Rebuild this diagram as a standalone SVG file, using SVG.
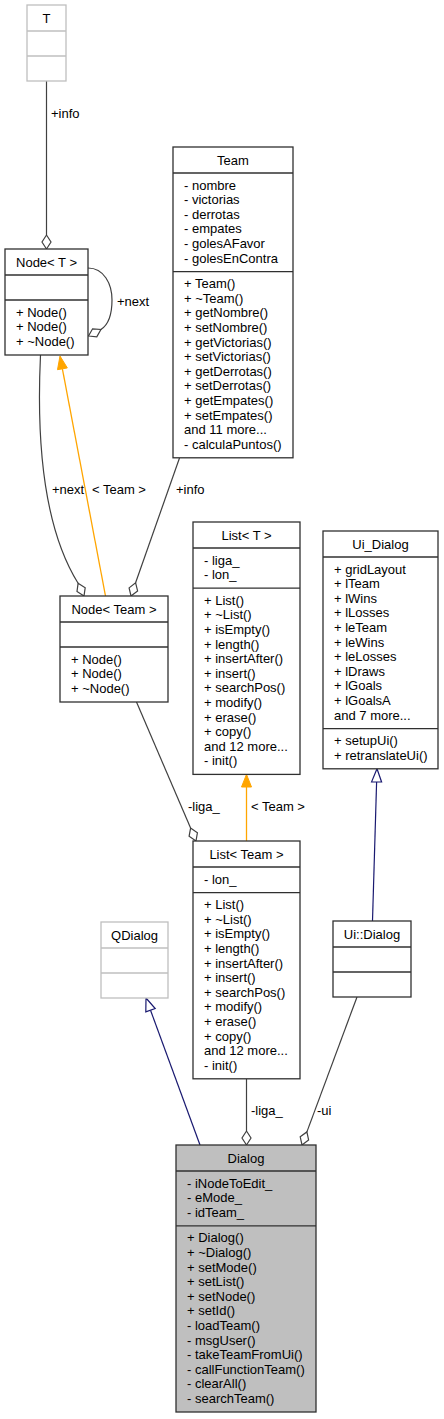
<svg xmlns="http://www.w3.org/2000/svg" width="444" height="1419" viewBox="0 0 444 1419">
<style>
text{font-family:"Liberation Sans",Arial,sans-serif;font-size:13px;fill:#000}
.t{text-anchor:middle}
.box{fill:#fff;stroke:#303030;stroke-width:1.3}
.und{fill:#fff;stroke:#bfbfbf;stroke-width:1.3}
.cur{fill:#bfbfbf;stroke:#303030;stroke-width:1.3}
.sep{stroke:#303030;stroke-width:1.3}
.usep{stroke:#bfbfbf;stroke-width:1.3}
.use{fill:none;stroke:#404040;stroke-width:1.2}
.dia{fill:#fff;stroke:#404040;stroke-width:1.2}
.inh{fill:none;stroke:#191970;stroke-width:1.2}
.tri{fill:#fff;stroke:#191970;stroke-width:1.2}
.tpl{fill:none;stroke:#ffa500;stroke-width:1.3}
.otri{fill:#ffa500;stroke:#ffa500;stroke-width:1}
</style>
<rect width="444" height="1419" fill="#fff"/>
<g id="connectors">
<path class="use" d="M46.5,81 L46.5,235"/>
<polygon class="dia" points="46.5,249 51,242 46.5,235 42,242"/>
<text x="51" y="117.5">+info</text>
<path class="use" d="M88,268 C104,268 112,284 112,300 C112,314 108,325 100.9,329.5"/>
<polygon class="dia" points="88.5,336 96.8,336.8 100.9,329.5 92.6,328.8"/>
<text x="117" y="305.5">+next</text>
<path class="use" d="M40.5,355 C36,450 45,530 78.1,583.3"/>
<polygon class="dia" points="84,596 85.2,587.7 78.1,583.3 77,591.5"/>
<text x="52" y="493.5">+next</text>
<path class="tpl" d="M105.5,596 L62.4,368.8"/>
<polygon class="otri" points="60,356 67.3,367.9 57.5,369.7"/>
<text x="92" y="493.5">&lt; Team &gt;</text>
<path class="use" d="M179.5,458 L135.6,582.8"/>
<polygon class="dia" points="131,596 137.6,590.9 135.6,582.8 129.1,587.9"/>
<text x="176" y="493.5">+info</text>
<path class="use" d="M136.5,702 L190.6,828.1"/>
<polygon class="dia" points="196,841 197.4,832.8 190.6,828.1 189.1,836.3"/>
<text x="188" y="810.5">-liga_</text>
<path class="tpl" d="M246.5,841 L246.5,787"/>
<polygon class="otri" points="246.5,774.4 251.5,787 241.5,787"/>
<text x="251" y="810.5">&lt; Team &gt;</text>
<path class="inh" d="M372.5,921 L376.6,782"/>
<polygon class="tri" points="377,768.8 381.6,782 371.6,781.8"/>
<path class="inh" d="M200,1145 L150.5,1010.2"/>
<polygon class="tri" points="146,998 155.2,1008.5 145.8,1011.9"/>
<path class="use" d="M246.5,1079 L246.5,1131"/>
<polygon class="dia" points="246.5,1145 251,1138 246.5,1131 242,1138"/>
<text x="251" y="1114.5">-liga_</text>
<path class="use" d="M357,997 L306.9,1131.9"/>
<polygon class="dia" points="302,1145 308.6,1140 306.9,1131.9 300.2,1136.8"/>
<text x="317" y="1114.5">-ui</text>
</g>
<g id="T">
<rect class="und" x="27" y="5" width="39" height="76"/>
<line class="usep" x1="27" y1="31" x2="66" y2="31"/>
<line class="usep" x1="27" y1="56" x2="66" y2="56"/>
<text class="t" x="46.5" y="22.5">T</text>
</g>
<g id="NodeT">
<rect class="box" x="5" y="249" width="83" height="106"/>
<line class="sep" x1="5" y1="275" x2="88" y2="275"/>
<line class="sep" x1="5" y1="300" x2="88" y2="300"/>
<text class="t" x="46.5" y="266.5">Node&lt; T &gt;</text>
<text x="16" y="316.5">+ Node()</text>
<text x="16" y="331.1">+ Node()</text>
<text x="16" y="345.7">+ ~Node()</text>
</g>
<g id="Team">
<rect class="box" x="173" y="147" width="120" height="310.8"/>
<line class="sep" x1="173" y1="173" x2="293" y2="173"/>
<line class="sep" x1="173" y1="271.6" x2="293" y2="271.6"/>
<text class="t" x="233" y="164.5">Team</text>
<text x="184" y="189.5">- nombre</text>
<text x="184" y="204.1">- victorias</text>
<text x="184" y="218.7">- derrotas</text>
<text x="184" y="233.3">- empates</text>
<text x="184" y="247.9">- golesAFavor</text>
<text x="184" y="262.5">- golesEnContra</text>
<text x="184" y="288.1">+ Team()</text>
<text x="184" y="302.7">+ ~Team()</text>
<text x="184" y="317.3">+ getNombre()</text>
<text x="184" y="331.9">+ setNombre()</text>
<text x="184" y="346.5">+ getVictorias()</text>
<text x="184" y="361.1">+ setVictorias()</text>
<text x="184" y="375.7">+ getDerrotas()</text>
<text x="184" y="390.3">+ setDerrotas()</text>
<text x="184" y="404.9">+ getEmpates()</text>
<text x="184" y="419.5">+ setEmpates()</text>
<text x="184" y="434.1">and 11 more...</text>
<text x="184" y="448.7">- calculaPuntos()</text>
</g>
<g id="NodeTeam">
<rect class="box" x="60" y="596" width="108" height="106"/>
<line class="sep" x1="60" y1="622" x2="168" y2="622"/>
<line class="sep" x1="60" y1="647" x2="168" y2="647"/>
<text class="t" x="114" y="613.5">Node&lt; Team &gt;</text>
<text x="71" y="663.5">+ Node()</text>
<text x="71" y="678.1">+ Node()</text>
<text x="71" y="692.7">+ ~Node()</text>
</g>
<g id="ListT">
<rect class="box" x="193" y="522" width="107" height="252.4"/>
<line class="sep" x1="193" y1="548" x2="300" y2="548"/>
<line class="sep" x1="193" y1="588.2" x2="300" y2="588.2"/>
<text class="t" x="246.5" y="539.5">List&lt; T &gt;</text>
<text x="204" y="564.5">- liga_</text>
<text x="204" y="579.1">- lon_</text>
<text x="204" y="604.7">+ List()</text>
<text x="204" y="619.3">+ ~List()</text>
<text x="204" y="633.9">+ isEmpty()</text>
<text x="204" y="648.5">+ length()</text>
<text x="204" y="663.1">+ insertAfter()</text>
<text x="204" y="677.7">+ insert()</text>
<text x="204" y="692.3">+ searchPos()</text>
<text x="204" y="706.9">+ modify()</text>
<text x="204" y="721.5">+ erase()</text>
<text x="204" y="736.1">+ copy()</text>
<text x="204" y="750.7">and 12 more...</text>
<text x="204" y="765.3">- init()</text>
</g>
<g id="Ui_Dialog">
<rect class="box" x="323" y="531" width="115" height="237.8"/>
<line class="sep" x1="323" y1="557" x2="438" y2="557"/>
<line class="sep" x1="323" y1="728.6" x2="438" y2="728.6"/>
<text class="t" x="380.5" y="548.5">Ui_Dialog</text>
<text x="334" y="573.5">+ gridLayout</text>
<text x="334" y="588.1">+ lTeam</text>
<text x="334" y="602.7">+ lWins</text>
<text x="334" y="617.3">+ lLosses</text>
<text x="334" y="631.9">+ leTeam</text>
<text x="334" y="646.5">+ leWins</text>
<text x="334" y="661.1">+ leLosses</text>
<text x="334" y="675.7">+ lDraws</text>
<text x="334" y="690.3">+ lGoals</text>
<text x="334" y="704.9">+ lGoalsA</text>
<text x="334" y="719.5">and 7 more...</text>
<text x="334" y="745.1">+ setupUi()</text>
<text x="334" y="759.7">+ retranslateUi()</text>
</g>
<g id="ListTeam">
<rect class="box" x="193" y="841" width="107" height="237.8"/>
<line class="sep" x1="193" y1="867" x2="300" y2="867"/>
<line class="sep" x1="193" y1="892.6" x2="300" y2="892.6"/>
<text class="t" x="246.5" y="858.5">List&lt; Team &gt;</text>
<text x="204" y="883.5">- lon_</text>
<text x="204" y="909.1">+ List()</text>
<text x="204" y="923.7">+ ~List()</text>
<text x="204" y="938.3">+ isEmpty()</text>
<text x="204" y="952.9">+ length()</text>
<text x="204" y="967.5">+ insertAfter()</text>
<text x="204" y="982.1">+ insert()</text>
<text x="204" y="996.7">+ searchPos()</text>
<text x="204" y="1011.3">+ modify()</text>
<text x="204" y="1025.9">+ erase()</text>
<text x="204" y="1040.5">+ copy()</text>
<text x="204" y="1055.1">and 12 more...</text>
<text x="204" y="1069.7">- init()</text>
</g>
<g id="QDialog">
<rect class="und" x="101" y="922" width="67" height="76"/>
<line class="usep" x1="101" y1="948" x2="168" y2="948"/>
<line class="usep" x1="101" y1="973" x2="168" y2="973"/>
<text class="t" x="134.5" y="939.5">QDialog</text>
</g>
<g id="UiDialog">
<rect class="box" x="333" y="921" width="78" height="76"/>
<line class="sep" x1="333" y1="947" x2="411" y2="947"/>
<line class="sep" x1="333" y1="972" x2="411" y2="972"/>
<text class="t" x="372" y="938.5">Ui::Dialog</text>
</g>
<g id="Dialog">
<rect class="cur" x="176" y="1145" width="140" height="267"/>
<line class="sep" x1="176" y1="1171" x2="316" y2="1171"/>
<line class="sep" x1="176" y1="1225.8" x2="316" y2="1225.8"/>
<text class="t" x="246" y="1162.5">Dialog</text>
<text x="187" y="1187.5">- iNodeToEdit_</text>
<text x="187" y="1202.1">- eMode_</text>
<text x="187" y="1216.7">- idTeam_</text>
<text x="187" y="1242.3">+ Dialog()</text>
<text x="187" y="1256.9">+ ~Dialog()</text>
<text x="187" y="1271.5">+ setMode()</text>
<text x="187" y="1286.1">+ setList()</text>
<text x="187" y="1300.7">+ setNode()</text>
<text x="187" y="1315.3">+ setId()</text>
<text x="187" y="1329.9">- loadTeam()</text>
<text x="187" y="1344.5">- msgUser()</text>
<text x="187" y="1359.1">- takeTeamFromUi()</text>
<text x="187" y="1373.7">- callFunctionTeam()</text>
<text x="187" y="1388.3">- clearAll()</text>
<text x="187" y="1402.9">- searchTeam()</text>
</g>
</svg>
